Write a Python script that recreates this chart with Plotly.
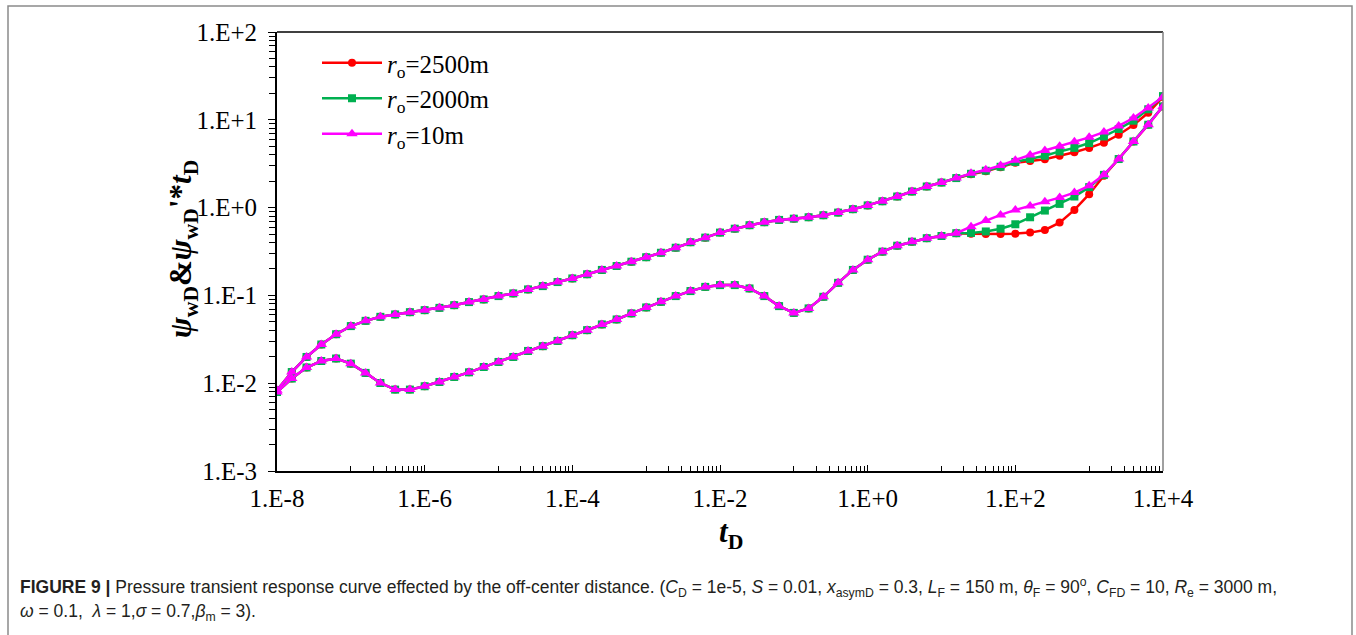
import plotly.graph_objects as go

# ---------------- data ----------------
t_D = [1.0e-8, 1.585e-8, 2.512e-8, 3.981e-8, 6.310e-8,
       1.0e-7, 1.585e-7, 2.512e-7, 3.981e-7, 6.310e-7,
       1.0e-6, 1.585e-6, 2.512e-6, 3.981e-6, 6.310e-6,
       1.0e-5, 1.585e-5, 2.512e-5, 3.981e-5, 6.310e-5,
       1.0e-4, 1.585e-4, 2.512e-4, 3.981e-4, 6.310e-4,
       1.0e-3, 1.585e-3, 2.512e-3, 3.981e-3, 6.310e-3,
       1.0e-2, 1.585e-2, 2.512e-2, 3.981e-2, 6.310e-2,
       1.0e-1, 1.585e-1, 2.512e-1, 3.981e-1, 6.310e-1,
       1.0e+0, 1.585e+0, 2.512e+0, 3.981e+0, 6.310e+0,
       1.0e+1, 1.585e+1, 2.512e+1, 3.981e+1, 6.310e+1,
       1.0e+2, 1.585e+2, 2.512e+2, 3.981e+2, 6.310e+2,
       1.0e+3, 1.585e+3, 2.512e+3, 3.981e+3, 6.310e+3,
       1.0e+4]

# pressure (upper curve) - shared early part
psi_common = [0.0083, 0.0134, 0.0199, 0.0276, 0.0361, 0.0447, 0.0513, 0.0570, 0.0607, 0.0644,
              0.0679, 0.0721, 0.0774, 0.0839, 0.0899, 0.0982, 0.1054, 0.117, 0.1276, 0.1419,
              0.156, 0.174, 0.195, 0.216, 0.242, 0.272, 0.306, 0.349, 0.403, 0.455,
              0.519, 0.575, 0.630, 0.681, 0.724, 0.748, 0.776, 0.818, 0.877, 0.959,
              1.059, 1.180, 1.337, 1.524, 1.738, 1.928, 2.168]
psi_2500_tail = [2.399, 2.600, 2.884, 3.236, 3.388, 3.548, 3.890, 4.266, 4.786, 5.495, 6.761, 8.710, 12.02, 18.2]
psi_2000_tail = [2.427, 2.630, 2.917, 3.311, 3.589, 3.890, 4.365, 4.786, 5.433, 6.457, 7.852, 9.772, 13.18, 18.62]
psi_10_tail = [2.455, 2.692, 3.020, 3.467, 3.981, 4.467, 5.012, 5.623, 6.310, 7.244, 8.511, 10.47, 13.65, 18.2]

# derivative (lower curve) - shared early part
dpsi_common = [0.00794, 0.0113, 0.0151, 0.0179, 0.0191, 0.0167, 0.0131, 0.01005, 0.00845, 0.00845,
               0.00923, 0.01033, 0.01178, 0.0133, 0.0153, 0.01746, 0.0199, 0.0233, 0.0264, 0.0303,
               0.0352, 0.0402, 0.0467, 0.0532, 0.0624, 0.0729, 0.0845, 0.0982, 0.112, 0.125,
               0.131, 0.131, 0.120, 0.0982, 0.0755, 0.0632, 0.0711, 0.0964, 0.139, 0.195,
               0.255, 0.315, 0.368, 0.409, 0.448, 0.475, 0.511]
dpsi_2500_tail = [0.505, 0.50, 0.50, 0.505, 0.519, 0.556, 0.675, 0.942, 1.422, 2.301, 3.573, 5.662, 8.79, 14.22]
dpsi_2000_tail = [0.515, 0.535, 0.575, 0.646, 0.776, 0.925, 1.102, 1.337, 1.710, 2.36, 3.573, 5.662, 8.79, 14.22]
dpsi_10_tail = [0.607, 0.711, 0.826, 0.942, 1.045, 1.169, 1.300, 1.483, 1.770, 2.36, 3.573, 5.662, 8.79, 14.22]

series_names = ["<i>r</i><sub>o</sub>=2500m", "<i>r</i><sub>o</sub>=2000m", "<i>r</i><sub>o</sub>=10m"]
series_colors = ["#FF0000", "#00B050", "#FF00FF"]
series_symbols = ["circle", "square", "triangle-up"]
series_sizes = [8, 8, 10]
psi_series = [psi_common + psi_2500_tail, psi_common + psi_2000_tail, psi_common + psi_10_tail]
dpsi_series = [dpsi_common + dpsi_2500_tail, dpsi_common + dpsi_2000_tail, dpsi_common + dpsi_10_tail]

x_tickvals = [1e-8, 1e-6, 1e-4, 1e-2, 1e0, 1e2, 1e4]
x_ticktext = ["1.E-8", "1.E-6", "1.E-4", "1.E-2", "1.E+0", "1.E+2", "1.E+4"]
y_tickvals = [1e-3, 1e-2, 1e-1, 1e0, 1e1, 1e2]
y_ticktext = ["1.E-3", "1.E-2", "1.E-1", "1.E+0", "1.E+1", "1.E+2"]

# x minor ticks (Excel log base-100 style): m * 10^(odd exponent)
x_minor = [m * 10.0 ** e for e in (-7, -5, -3, -1, 1, 3) for m in range(1, 10)]
y_minor = [m * 10.0 ** e for e in (-3, -2, -1, 0, 1) for m in range(2, 10)]

# ---------------- figure ----------------
fig = go.Figure()
for name, col, sym, sz, psi, dpsi in zip(series_names, series_colors, series_symbols,
                                         series_sizes, psi_series, dpsi_series):
    fig.add_trace(go.Scatter(x=t_D, y=psi, mode="lines+markers", name=name,
                             line=dict(color=col, width=2.5),
                             marker=dict(symbol=sym, size=sz, color=col)))
    fig.add_trace(go.Scatter(x=t_D, y=dpsi, mode="lines+markers", name=name,
                             showlegend=False,
                             line=dict(color=col, width=2.5),
                             marker=dict(symbol=sym, size=sz, color=col)))

L, R, T, B = 277, 1163, 32, 471
W, H = 1356, 635
pw, ph = R - L, B - T


def px(x):
    return (x - L) / pw


def py(y):
    return (B - y) / ph


serif = "Liberation Serif, Times New Roman, serif"
fig.update_layout(
    width=W, height=H,
    margin=dict(l=L, r=W - R, t=T, b=H - B),
    paper_bgcolor="white", plot_bgcolor="white",
    font=dict(family=serif, color="black", size=25),
    showlegend=True,
    legend=dict(x=px(317), y=py(40), xanchor="left", yanchor="top",
                bgcolor="rgba(0,0,0,0)", font=dict(family=serif, size=25, color="black"),
                tracegroupgap=0, itemwidth=60),
    xaxis=dict(type="log", range=[-8, 4], tickmode="array", tickvals=x_tickvals,
               ticktext=x_ticktext, ticks="inside", ticklen=6, tickwidth=1, tickcolor="black",
               showgrid=False, zeroline=False, showline=True, linecolor="black", linewidth=2,
               tickfont=dict(family=serif, size=25), ticklabelstandoff=4,
               minor=dict(tickvals=x_minor, ticks="inside", ticklen=5, tickwidth=1,
                          tickcolor="black", showgrid=False)),
    yaxis=dict(type="log", range=[-3, 2], tickmode="array", tickvals=y_tickvals,
               ticktext=y_ticktext, ticks="outside", ticklen=7, tickwidth=1, tickcolor="black",
               showgrid=False, zeroline=False, showline=True, linecolor="black", linewidth=2,
               tickfont=dict(family=serif, size=25), ticklabelstandoff=6,
               minor=dict(tickvals=y_minor, ticks="outside", ticklen=6, tickwidth=1,
                          tickcolor="black", showgrid=False)),
)

# plot border (top black, right grey) and outer figure frame
fig.add_shape(type="line", xref="paper", yref="paper", x0=0, x1=1, y0=1, y1=1,
              line=dict(color="black", width=1.5))
fig.add_shape(type="line", xref="paper", yref="paper", x0=1, x1=1, y0=0, y1=1,
              line=dict(color="#808080", width=1.5))
fig.add_shape(type="rect", xref="paper", yref="paper", x0=px(8), x1=px(1352), y0=py(6), y1=py(645),
              line=dict(color="#8a8a8a", width=1.5), layer="below")

# axis titles
fig.add_annotation(xref="paper", yref="paper", x=px(183), y=py(249), xanchor="center", yanchor="middle",
                   textangle=-90, showarrow=False,
                   text="<b><i>ψ</i><sub>wD</sub>&amp;<i>ψ</i><sub>wD</sub>'*<i>t</i><sub>D</sub></b>",
                   font=dict(family=serif, size=31, color="black"))
fig.add_annotation(xref="paper", yref="paper", x=px(731), y=py(534), xanchor="center", yanchor="middle",
                   showarrow=False, text="<b><i>t</i><sub>D</sub></b>",
                   font=dict(family=serif, size=31, color="black"))

# caption
cap_font = dict(family="Liberation Sans, Arial, Helvetica, sans-serif",
                size=17.5, color="#231f20")
fig.add_annotation(xref="paper", yref="paper", x=px(18), y=py(587), xanchor="left", yanchor="middle",
                   showarrow=False, align="left", font=cap_font,
                   text="<b>FIGURE 9 |</b> Pressure transient response curve effected by the off-center distance. "
                        "(<i>C</i><sub>D</sub> = 1e-5, <i>S</i> = 0.01, <i>x</i><sub>asymD</sub> = 0.3, "
                        "<i>L</i><sub>F</sub> = 150 m, <i>θ</i><sub>F</sub> = 90<sup>o</sup>, "
                        "<i>C</i><sub>FD</sub> = 10, <i>R</i><sub>e</sub> = 3000 m,")
fig.add_annotation(xref="paper", yref="paper", x=px(18), y=py(612), xanchor="left", yanchor="middle",
                   showarrow=False, align="left", font=cap_font,
                   text="<i>ω</i> = 0.1,  <i>λ</i> = 1,<i>σ</i> = 0.7,<i>β</i><sub>m</sub> = 3).")

fig.write_html("out.html", post_script="document.body.style.margin='0';")
